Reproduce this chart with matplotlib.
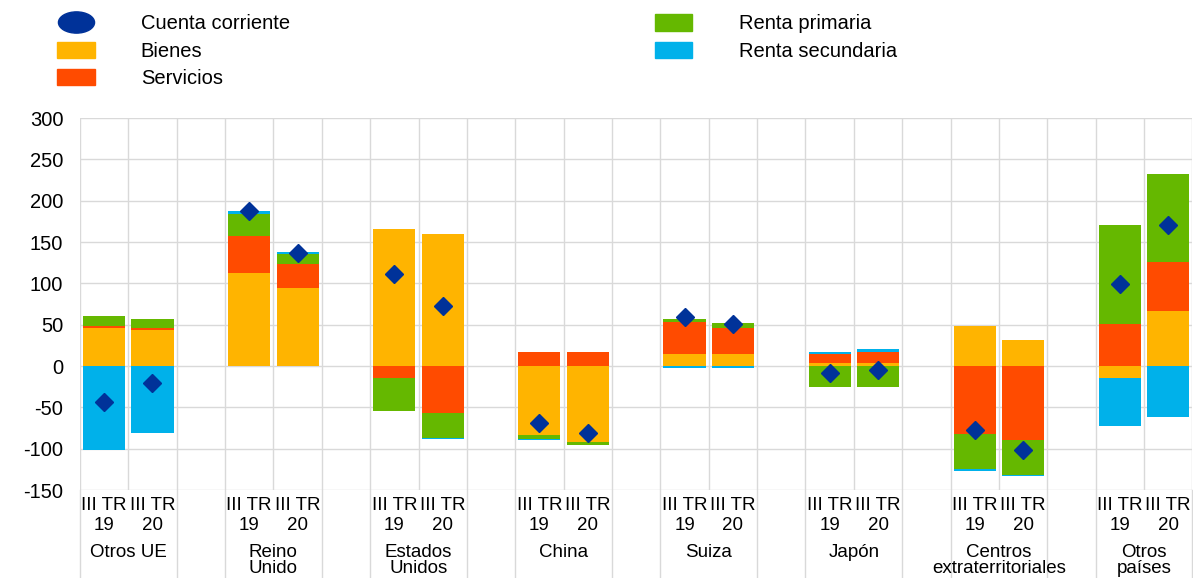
import numpy as np
import matplotlib
matplotlib.use('Agg')
import matplotlib.pyplot as plt
import matplotlib.path as mpath
from matplotlib.lines import Line2D
from matplotlib.patches import Patch

plt.rcParams['font.family'] = ['Liberation Sans', 'DejaVu Sans']
plt.rcParams['axes.unicode_minus'] = False

# data
groups = ['Otros UE', 'Reino\nUnido', 'Estados\nUnidos', 'China', 'Suiza', 'Japón',
          'Centros\nextraterritoriales', 'Otros\npaíses']
periods = ['III TR\n19', 'III TR\n20']

bienes = [46, 44, 112, 94, 166, 160, -83, -92, 15, 15, 4, 4, 49, 31, -15, 67]
servicios = [3, 2, 45, 30, -15, -57, 17, 17, 38, 31, 11, 13, -82, -89, 51, 59]
renta_primaria = [11, 11, 27, 11, -39, -30, -5, -3, 4, 6, -25, -25, -43, -43, 119, 106]
renta_secundaria = [-102, -81, 4, 3, -1, -1, -1, -1, -2, -2, 2, 3, -2, -1, -57, -62]
cuenta_corriente = [-43, -21, 188, 137, 111, 73, -69, -81, 59, 51, -8, -5, -77, -102, 99, 170]

series_names = ['Bienes', 'Servicios', 'Renta primaria', 'Renta secundaria']
series_vals = [bienes, servicios, renta_primaria, renta_secundaria]
series_cols = ['#FFB400', '#FF4B00', '#65B800', '#00B1EA']
cc_col = '#003299'
grid_col = '#d9d9d9'

fig = plt.figure(figsize=(11.93, 5.78), dpi=100)
ax = fig.add_axes([0.067, 0.1522, 0.9325, 0.6436])

x = np.array([3 * g + i for g in range(len(groups)) for i in range(len(periods))])

# stacked bars, positives upward and negatives downward
pos_bottom = np.zeros(len(x))
neg_bottom = np.zeros(len(x))
for name, vals, col in zip(series_names, series_vals, series_cols):
    v = np.array(vals, dtype=float)
    bottom = np.where(v >= 0, pos_bottom, neg_bottom)
    ax.bar(x, v, width=0.87, bottom=bottom, color=col, linewidth=0, zorder=2)
    pos_bottom += np.where(v >= 0, v, 0)
    neg_bottom += np.where(v < 0, v, 0)

ax.plot(x, cuenta_corriente, linestyle='none', marker='D', markersize=9,
        color=cc_col, zorder=3)

ax.set_xlim(-0.5, x[-1] + 0.5)
ax.set_ylim(-150, 300)
ax.set_yticks(np.arange(-150, 301, 50))
ax.set_xticks(np.arange(-0.5, x[-1] + 1, 1), minor=True)
ax.set_xticks(x, labels=periods * len(groups), linespacing=1.25)
ax.grid(which='minor', axis='x', color=grid_col, lw=1, zorder=0)
ax.grid(which='major', axis='y', color=grid_col, lw=1, zorder=0)
ax.grid(which='major', axis='x', visible=False)
for s in ax.spines.values():
    s.set_visible(False)
ax.tick_params(axis='both', which='both', length=0)
ax.tick_params(axis='y', pad=12, labelsize=14.5)
ax.tick_params(axis='x', pad=5, labelsize=13.5)

tr = ax.get_xaxis_transform()
for g, name in enumerate(groups):
    ax.text(3 * g + 0.5, -0.146, name, transform=tr, ha='center', va='top',
            fontsize=13.5, linespacing=0.92)
    for xv in (3 * g - 0.5, 3 * g + 1.5):
        ax.plot([xv, xv], [0, -0.4], transform=tr, clip_on=False,
                color=grid_col, lw=1)

# legend
circ = mpath.Path.unit_circle()
ellipse = mpath.Path(circ.vertices * [1.7, 1.0], circ.codes)
h_cc = Line2D([], [], linestyle='none', marker=ellipse, markersize=26, color=cc_col,
              label='Cuenta corriente')
h = [Patch(color=c, label=n) for n, c in zip(series_names, series_cols)]

kw = dict(loc='upper left', frameon=False, fontsize=14.5, handlelength=1.85,
          handleheight=0.85, handletextpad=2.3, labelspacing=0.4,
          borderpad=0, borderaxespad=0)
fig.legend(handles=[h_cc, h[0], h[1]], bbox_to_anchor=(0.048, 0.975), **kw)
fig.legend(handles=[h[2], h[3]], bbox_to_anchor=(0.549, 0.975), **kw)

fig.savefig('out.png', dpi=100)
